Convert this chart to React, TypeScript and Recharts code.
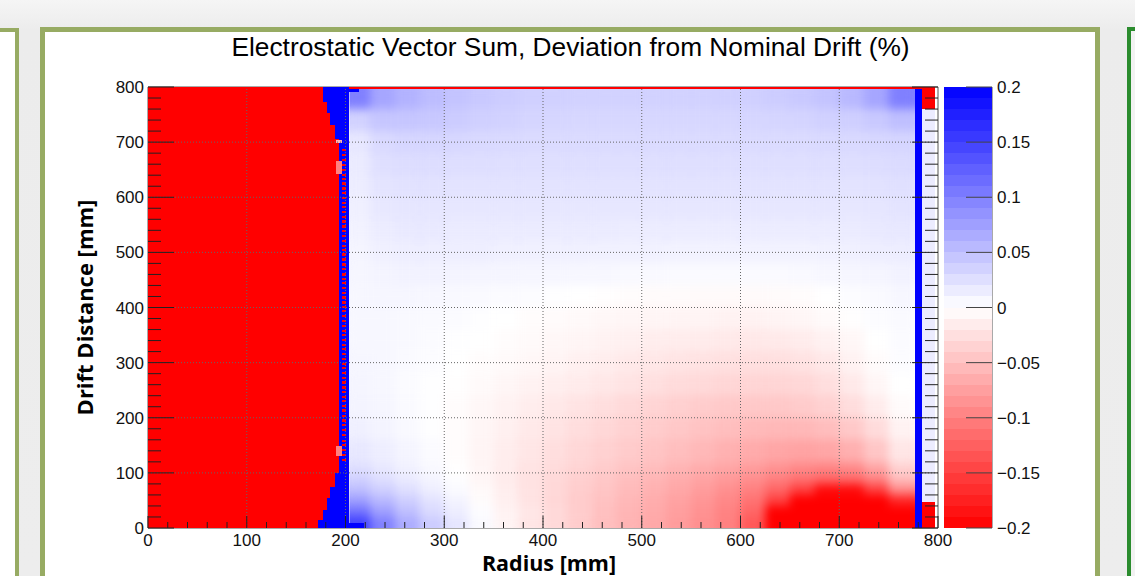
import React from "react";
import { ScatterChart, Scatter, XAxis, YAxis } from "recharts";

const AXIS_FONT = "'Liberation Sans', Arial, Helvetica, sans-serif";
const LABEL_FONT = "'Open Sans', 'Liberation Sans', sans-serif";

// page / plot geometry (px)
const CHART_W = 1135;
const CHART_H = 576;
const PLOT_LEFT = 148;
const PLOT_TOP = 87;
const PLOT_RIGHT = 938;
const PLOT_BOTTOM = 528;
const PLOT_W = PLOT_RIGHT - PLOT_LEFT;
const PLOT_H = PLOT_BOTTOM - PLOT_TOP;
const AXIS_MAX = 800;
const PX_PER_R = PLOT_W / AXIS_MAX;
const PX_PER_D = PLOT_H / AXIS_MAX;

// colour scale geometry
const CBAR_LEFT = 944;
const CBAR_RIGHT = 992;
const CBAR_MIN = -0.2;
const CBAR_MAX = 0.2;
const PX_PER_V = PLOT_H / (CBAR_MAX - CBAR_MIN);

// ticks
const allTicks = Array.from({ length: 41 }, (_, i) => i * 20);
const gridLines = [100, 200, 300, 400, 500, 600, 700];
const colorbarTicks = [0.2, 0.15, 0.1, 0.05, 0, -0.05, -0.1, -0.15, -0.2];
// palette steps of the colour scale (lower edge of each band)
const paletteSteps = Array.from({ length: 40 }, (_, i) => Math.round((CBAR_MIN + i * 0.01) * 1000) / 1000);

// field between the two electrode strips: radius bin edges, drift bin edges (top -> bottom)
const fieldRadiusEdges = [204, 225, 250, 275, 300, 325, 350, 375, 400, 425, 450, 475, 500, 525, 550, 575, 600, 625, 650, 675, 700, 725, 750, 777];
const fieldDriftEdges = [800, 760, 720, 680, 640, 600, 560, 520, 480, 440, 400, 360, 320, 280, 240, 200, 160, 120, 100, 80, 60, 40, 20, 0];

// deviation (%) per field bin, one row per drift bin, top row first
const fieldDeviation = [
  [0.10, 0.07, 0.06, 0.052, 0.046, 0.042, 0.039, 0.037, 0.036, 0.035, 0.035, 0.035, 0.035, 0.035, 0.035, 0.036, 0.037, 0.039, 0.042, 0.046, 0.055, 0.07, 0.1],
  [0.035, 0.045, 0.045, 0.043, 0.04, 0.037, 0.035, 0.033, 0.032, 0.031, 0.031, 0.031, 0.031, 0.031, 0.031, 0.031, 0.032, 0.033, 0.034, 0.036, 0.038, 0.042, 0.05],
  [0.019, 0.03, 0.032, 0.032, 0.031, 0.03, 0.029, 0.028, 0.028, 0.028, 0.028, 0.028, 0.028, 0.028, 0.028, 0.028, 0.028, 0.028, 0.028, 0.029, 0.03, 0.031, 0.033],
  [0.016, 0.025, 0.027, 0.027, 0.026, 0.026, 0.025, 0.025, 0.025, 0.025, 0.025, 0.025, 0.025, 0.025, 0.025, 0.025, 0.025, 0.025, 0.025, 0.025, 0.026, 0.027, 0.028],
  [0.014, 0.021, 0.023, 0.023, 0.022, 0.022, 0.022, 0.022, 0.022, 0.022, 0.022, 0.022, 0.022, 0.022, 0.022, 0.022, 0.022, 0.022, 0.022, 0.022, 0.022, 0.023, 0.024],
  [0.012, 0.018, 0.02, 0.02, 0.019, 0.019, 0.019, 0.019, 0.019, 0.019, 0.019, 0.019, 0.019, 0.019, 0.019, 0.019, 0.019, 0.019, 0.019, 0.019, 0.019, 0.02, 0.021],
  [0.01, 0.015, 0.017, 0.017, 0.016, 0.016, 0.016, 0.016, 0.016, 0.016, 0.016, 0.015, 0.015, 0.015, 0.015, 0.015, 0.015, 0.015, 0.015, 0.015, 0.016, 0.017, 0.018],
  [0.008, 0.012, 0.013, 0.013, 0.013, 0.013, 0.012, 0.012, 0.012, 0.012, 0.011, 0.011, 0.011, 0.01, 0.01, 0.01, 0.01, 0.01, 0.01, 0.011, 0.012, 0.013, 0.014],
  [0.007, 0.009, 0.01, 0.01, 0.009, 0.008, 0.008, 0.007, 0.007, 0.006, 0.006, 0.005, 0.005, 0.004, 0.004, 0.004, 0.004, 0.004, 0.005, 0.006, 0.007, 0.008, 0.01],
  [0.006, 0.007, 0.007, 0.006, 0.005, 0.004, 0.003, 0.002, 0.001, 0.0, -0.001, -0.002, -0.003, -0.003, -0.004, -0.004, -0.004, -0.003, -0.002, 0.0, 0.002, 0.004, 0.006],
  [0.006, 0.006, 0.005, 0.004, 0.003, 0.001, 0.0, -0.002, -0.003, -0.005, -0.006, -0.007, -0.008, -0.009, -0.009, -0.01, -0.01, -0.009, -0.007, -0.004, -0.001, 0.002, 0.004],
  [0.006, 0.006, 0.005, 0.003, 0.001, 0.0, -0.002, -0.004, -0.006, -0.008, -0.01, -0.012, -0.014, -0.015, -0.016, -0.017, -0.018, -0.017, -0.015, -0.011, -0.006, 0.0, 0.003],
  [0.007, 0.006, 0.004, 0.002, 0.0, -0.002, -0.004, -0.006, -0.009, -0.012, -0.014, -0.017, -0.019, -0.021, -0.023, -0.024, -0.025, -0.025, -0.023, -0.018, -0.01, -0.003, 0.002],
  [0.008, 0.006, 0.003, 0.001, -0.001, -0.004, -0.007, -0.01, -0.013, -0.016, -0.019, -0.022, -0.025, -0.028, -0.03, -0.032, -0.033, -0.033, -0.031, -0.026, -0.017, -0.007, 0.0],
  [0.009, 0.007, 0.004, 0.001, -0.002, -0.006, -0.01, -0.014, -0.018, -0.022, -0.026, -0.03, -0.034, -0.037, -0.04, -0.042, -0.043, -0.043, -0.041, -0.036, -0.027, -0.015, -0.003],
  [0.012, 0.009, 0.005, 0.001, -0.002, -0.007, -0.012, -0.017, -0.022, -0.027, -0.031, -0.036, -0.04, -0.044, -0.048, -0.051, -0.054, -0.056, -0.056, -0.052, -0.043, -0.028, -0.01],
  [0.018, 0.013, 0.008, 0.003, -0.002, -0.008, -0.014, -0.02, -0.026, -0.031, -0.036, -0.041, -0.046, -0.051, -0.056, -0.061, -0.066, -0.07, -0.072, -0.07, -0.062, -0.045, -0.02],
  [0.025, 0.018, 0.011, 0.005, -0.001, -0.008, -0.015, -0.022, -0.028, -0.034, -0.04, -0.046, -0.052, -0.058, -0.064, -0.07, -0.077, -0.085, -0.092, -0.095, -0.09, -0.07, -0.035],
  [0.035, 0.025, 0.016, 0.008, 0.001, -0.007, -0.015, -0.023, -0.03, -0.037, -0.043, -0.05, -0.057, -0.064, -0.071, -0.079, -0.088, -0.1, -0.11, -0.118, -0.115, -0.095, -0.05],
  [0.05, 0.037, 0.025, 0.013, 0.004, -0.005, -0.014, -0.023, -0.031, -0.039, -0.046, -0.053, -0.061, -0.069, -0.078, -0.088, -0.1, -0.12, -0.15, -0.19, -0.19, -0.15, -0.09],
  [0.075, 0.055, 0.038, 0.022, 0.009, -0.002, -0.012, -0.022, -0.031, -0.04, -0.048, -0.056, -0.064, -0.073, -0.082, -0.093, -0.11, -0.15, -0.22, -0.25, -0.25, -0.23, -0.17],
  [0.11, 0.075, 0.05, 0.03, 0.014, 0.002, -0.01, -0.02, -0.03, -0.04, -0.05, -0.058, -0.067, -0.076, -0.086, -0.098, -0.12, -0.22, -0.25, -0.25, -0.25, -0.25, -0.24],
  [0.15, 0.1, 0.065, 0.04, 0.02, 0.004, -0.009, -0.02, -0.03, -0.04, -0.05, -0.059, -0.068, -0.078, -0.088, -0.1, -0.13, -0.22, -0.25, -0.25, -0.25, -0.25, -0.25],
];

// inner electrode: drift bands and the radius where the saturated red region stops
const innerBandEdges = [0, 14, 32, 54, 74, 99, 705, 731, 753, 772, 800];
const innerRedEdge = [172.5, 177, 181, 184, 189, 193, 189, 184, 181, 177];
const innerStripEnd = 203.5;
// red dashes seen inside the inner blue strip (drift centres, mm)
const innerSpeckDrift = [
  124, 133, 141, 151, 158, 169, 178, 187, 195, 203, 213, 221, 230, 238, 247, 255, 264, 272, 281, 290, 297, 307, 315, 324,
  332, 341, 350, 357, 367, 375, 384, 393, 401, 409, 418, 427, 436, 444, 452, 460, 470, 478, 487, 496, 504, 512, 521, 530,
  539, 547, 556, 564, 573, 582, 590, 598, 607, 616, 625, 633, 641, 650, 659, 668, 676, 685,
];
// pale spots on the red/blue boundary: [drift from, drift to, value]
const innerPaleSpots = [
  [130, 148, -0.1],
  [642, 666, -0.1],
  [698, 703, -0.06],
];

// outer electrode strip and the column beyond it
const outerStrip = [776.5, 784];
const outerColumn = [784, 797];
const outerColumnBands = [0, 47, 760, 800];
const outerColumnValues = [-0.25, 0.015, -0.25];

type HeatCell = { r: number; d: number; w: number; h: number; v: number };

const makeCell = (r0: number, r1: number, d0: number, d1: number, v: number): HeatCell => ({
  r: (r0 + r1) / 2,
  d: (d0 + d1) / 2,
  w: r1 - r0,
  h: d1 - d0,
  v,
});

const fieldCells: HeatCell[] = [];
fieldDeviation.forEach((row, i) => {
  row.forEach((v, j) => {
    fieldCells.push(
      makeCell(fieldRadiusEdges[j], fieldRadiusEdges[j + 1], fieldDriftEdges[i + 1], fieldDriftEdges[i], v)
    );
  });
});

const sharpCells: HeatCell[] = [makeCell(0, innerStripEnd, 0, 800, -0.25)];
innerRedEdge.forEach((edge, i) => {
  sharpCells.push(makeCell(edge, innerStripEnd, innerBandEdges[i], innerBandEdges[i + 1], 0.25));
});
innerPaleSpots.forEach(([d0, d1, v]) => sharpCells.push(makeCell(190, 196, d0, d1, v)));
innerSpeckDrift.forEach((d) => sharpCells.push(makeCell(196.5, 200.5, d - 2, d + 2, -0.25)));
sharpCells.push(makeCell(innerStripEnd, 219, 0, 9, 0.25));
sharpCells.push(makeCell(innerStripEnd, 214, 791, 797, 0.25));
sharpCells.push(makeCell(innerStripEnd, outerStrip[1], 797, 800, -0.25));
sharpCells.push(makeCell(outerStrip[0], outerStrip[1], 0, 797, 0.25));
outerColumnValues.forEach((v, i) => {
  sharpCells.push(makeCell(outerColumn[0], outerColumn[1], outerColumnBands[i], outerColumnBands[i + 1], v));
});

const paletteCells = paletteSteps.map((lo) => ({ x: 0.5, y: lo + 0.005, v: lo + 0.005 }));

const colorOf = (v: number) => {
  const t = Math.min(1, Math.abs(v) / 0.2);
  const c = Math.round(255 * (1 - t));
  return v >= 0 ? `rgb(${c},${c},255)` : `rgb(255,${c},${c})`;
};

const FieldCell = (props: any) => {
  const { cx, cy, payload } = props;
  if (cx == null || cy == null || !payload) return null;
  const w = payload.w * PX_PER_R;
  const h = payload.h * PX_PER_D;
  return <rect x={cx - w / 2} y={cy - h / 2} width={w} height={h} fill={colorOf(payload.v)} />;
};

const SharpCell = (props: any) => {
  const { cx, cy, payload } = props;
  if (cx == null || cy == null || !payload) return null;
  const w = payload.w * PX_PER_R;
  const h = payload.h * PX_PER_D;
  return (
    <rect x={cx - w / 2} y={cy - h / 2} width={w} height={h} fill={colorOf(payload.v)} shapeRendering="crispEdges" />
  );
};

const PaletteCell = (props: any) => {
  const { cy, payload } = props;
  if (cy == null || !payload) return null;
  const h = 0.01 * PX_PER_V;
  return (
    <rect
      x={CBAR_LEFT}
      y={cy - h / 2}
      width={CBAR_RIGHT - CBAR_LEFT}
      height={h}
      fill={colorOf(payload.v)}
      shapeRendering="crispEdges"
    />
  );
};

const TICK_COLOR = "#222";
const GRID_COLOR = "#666";

const BottomTick = (props: any) => {
  const { x, y, payload } = props;
  const v = payload.value;
  const major = v % 100 === 0;
  return (
    <g>
      {gridLines.includes(v) && (
        <line x1={x} x2={x} y1={y} y2={y - PLOT_H} stroke={GRID_COLOR} strokeDasharray="1 2" strokeWidth={1} />
      )}
      <line x1={x} x2={x} y1={y} y2={y - (major ? 12 : 6)} stroke={TICK_COLOR} strokeWidth={1} />
      {major && (
        <text x={x} y={y + 18} textAnchor="middle" fontSize={17} fontFamily={AXIS_FONT} fill="#111">
          {v}
        </text>
      )}
    </g>
  );
};

const TopTick = (props: any) => {
  const { x, y, payload } = props;
  const major = payload.value % 100 === 0;
  return <line x1={x} x2={x} y1={y} y2={y + (major ? 11 : 5.5)} stroke={TICK_COLOR} strokeWidth={1} />;
};

const LeftTick = (props: any) => {
  const { x, y, payload } = props;
  const v = payload.value;
  const major = v % 100 === 0;
  return (
    <g>
      {gridLines.includes(v) && (
        <line x1={x} x2={x + PLOT_W} y1={y} y2={y} stroke={GRID_COLOR} strokeDasharray="1 2" strokeWidth={1} />
      )}
      <line x1={x} x2={x + (major ? 26 : 13)} y1={y} y2={y} stroke={TICK_COLOR} strokeWidth={1} />
      {major && (
        <text x={x - 4} y={y} dy="0.36em" textAnchor="end" fontSize={17} fontFamily={AXIS_FONT} fill="#111">
          {v}
        </text>
      )}
    </g>
  );
};

const RightTick = (props: any) => {
  const { x, y, payload } = props;
  const major = payload.value % 100 === 0;
  return <line x1={x} x2={x - (major ? 26 : 13)} y1={y} y2={y} stroke={TICK_COLOR} strokeWidth={1} />;
};

const ColorbarTick = (props: any) => {
  const { x, y, payload } = props;
  const label = payload.value < 0 ? `\u2212${Math.abs(payload.value)}` : `${payload.value}`;
  return (
    <g>
      <line x1={x - 26} x2={x} y1={y} y2={y} stroke="#444" strokeWidth={1} />
      <text x={x + 5} y={y} dy="0.36em" textAnchor="start" fontSize={17} fontFamily={AXIS_FONT} fill="#111">
        {label}
      </text>
    </g>
  );
};

export default function App() {
  return (
    <div
      style={{
        position: "absolute",
        left: 0,
        top: 0,
        width: CHART_W,
        height: CHART_H,
        overflow: "hidden",
        background: "linear-gradient(#f5f5f5, #ececec 30px, #ededed)",
      }}
    >
      <style>{`.heat-field { filter: url(#heatSmooth); clip-path: url(#heatClip); }`}</style>
      <svg width={0} height={0} style={{ position: "absolute" }}>
        <defs>
          <filter id="heatSmooth" x="-3%" y="-3%" width="106%" height="106%" colorInterpolationFilters="sRGB">
            <feGaussianBlur stdDeviation={5} />
            <feComponentTransfer>
              <feFuncA type="table" tableValues="0 1 1 1 1 1 1 1 1 1" />
            </feComponentTransfer>
          </filter>
          <clipPath id="heatClip" clipPathUnits="objectBoundingBox">
            <rect x={0} y={0} width={1} height={1} />
          </clipPath>
        </defs>
      </svg>

      {/* slide panels */}
      <div style={{ position: "absolute", left: -10, top: 28, width: 25, height: 600, background: "#fff", borderTop: "4px solid #97ab63", borderRight: "4px solid #97ab63" }} />
      <div style={{ position: "absolute", left: 40, top: 27, width: 1050, height: 600, background: "#fff", border: "5px solid #97ab63" }} />
      <div style={{ position: "absolute", left: 1127, top: 27, width: 40, height: 600, background: "#f2f2f2", borderLeft: "4px solid #2b8c2e", borderTop: "4px solid #2b8c2e" }} />

      <div
        style={{
          position: "absolute",
          left: 0,
          top: 34,
          width: 1141,
          textAlign: "center",
          fontFamily: AXIS_FONT,
          fontSize: 26.3,
          lineHeight: "26px",
          color: "#000",
          whiteSpace: "nowrap",
        }}
      >
        Electrostatic Vector Sum, Deviation from Nominal Drift (%)
      </div>

      <div style={{ position: "absolute", left: 0, top: 0 }}>
        <ScatterChart
          width={CHART_W}
          height={CHART_H}
          margin={{ top: PLOT_TOP, right: CHART_W - PLOT_RIGHT, bottom: 0, left: PLOT_LEFT - 90 }}
        >
          <XAxis
            dataKey="r"
            type="number"
            domain={[0, AXIS_MAX]}
            allowDataOverflow
            ticks={allTicks}
            interval={0}
            height={CHART_H - PLOT_BOTTOM}
            tickSize={0}
            tickMargin={0}
            tickLine={false}
            axisLine={{ stroke: "#555" }}
            tick={<BottomTick />}
            label={{
              value: "Radius [mm]",
              position: "insideBottom",
              offset: 5,
              dx: 6,
              style: { fontFamily: LABEL_FONT, fontWeight: 700, fontSize: 21.5, fill: "#000" },
            }}
          />
          <XAxis
            xAxisId="top"
            orientation="top"
            mirror
            type="number"
            domain={[0, AXIS_MAX]}
            allowDataOverflow
            ticks={allTicks}
            interval={0}
            tickSize={0}
            tickMargin={0}
            tickLine={false}
            axisLine={{ stroke: "#555" }}
            tick={<TopTick />}
          />
          <YAxis
            dataKey="d"
            type="number"
            domain={[0, AXIS_MAX]}
            allowDataOverflow
            ticks={allTicks}
            interval={0}
            width={90}
            tickSize={0}
            tickMargin={0}
            tickLine={false}
            axisLine={{ stroke: "#555" }}
            tick={<LeftTick />}
            label={{
              value: "Drift Distance [mm]",
              angle: -90,
              position: "insideLeft",
              offset: 27,
              style: { textAnchor: "middle", fontFamily: LABEL_FONT, fontWeight: 700, fontSize: 22, fill: "#000" },
            }}
          />
          <YAxis
            yAxisId="right"
            orientation="right"
            mirror
            type="number"
            domain={[0, AXIS_MAX]}
            allowDataOverflow
            ticks={allTicks}
            interval={0}
            tickSize={0}
            tickMargin={0}
            tickLine={false}
            axisLine={{ stroke: "#555" }}
            tick={<RightTick />}
          />
          <Scatter className="heat-field" data={fieldCells} shape={FieldCell} isAnimationActive={false} />
          <Scatter data={sharpCells} shape={SharpCell} isAnimationActive={false} />
        </ScatterChart>
      </div>

      {/* colour scale */}
      <div style={{ position: "absolute", left: 0, top: 0 }}>
        <ScatterChart
          width={CBAR_RIGHT + 88}
          height={CHART_H}
          margin={{ top: PLOT_TOP, right: 28, bottom: CHART_H - PLOT_BOTTOM, left: CBAR_LEFT }}
        >
          <XAxis type="number" dataKey="x" domain={[0, 1]} hide />
          <YAxis
            type="number"
            dataKey="y"
            orientation="right"
            domain={[CBAR_MIN, CBAR_MAX]}
            allowDataOverflow
            ticks={colorbarTicks}
            interval={0}
            width={60}
            tickSize={0}
            tickMargin={0}
            tickLine={false}
            axisLine={{ stroke: "#555" }}
            tick={<ColorbarTick />}
          />
          <Scatter data={paletteCells} shape={PaletteCell} isAnimationActive={false} />
        </ScatterChart>
      </div>
    </div>
  );
}
